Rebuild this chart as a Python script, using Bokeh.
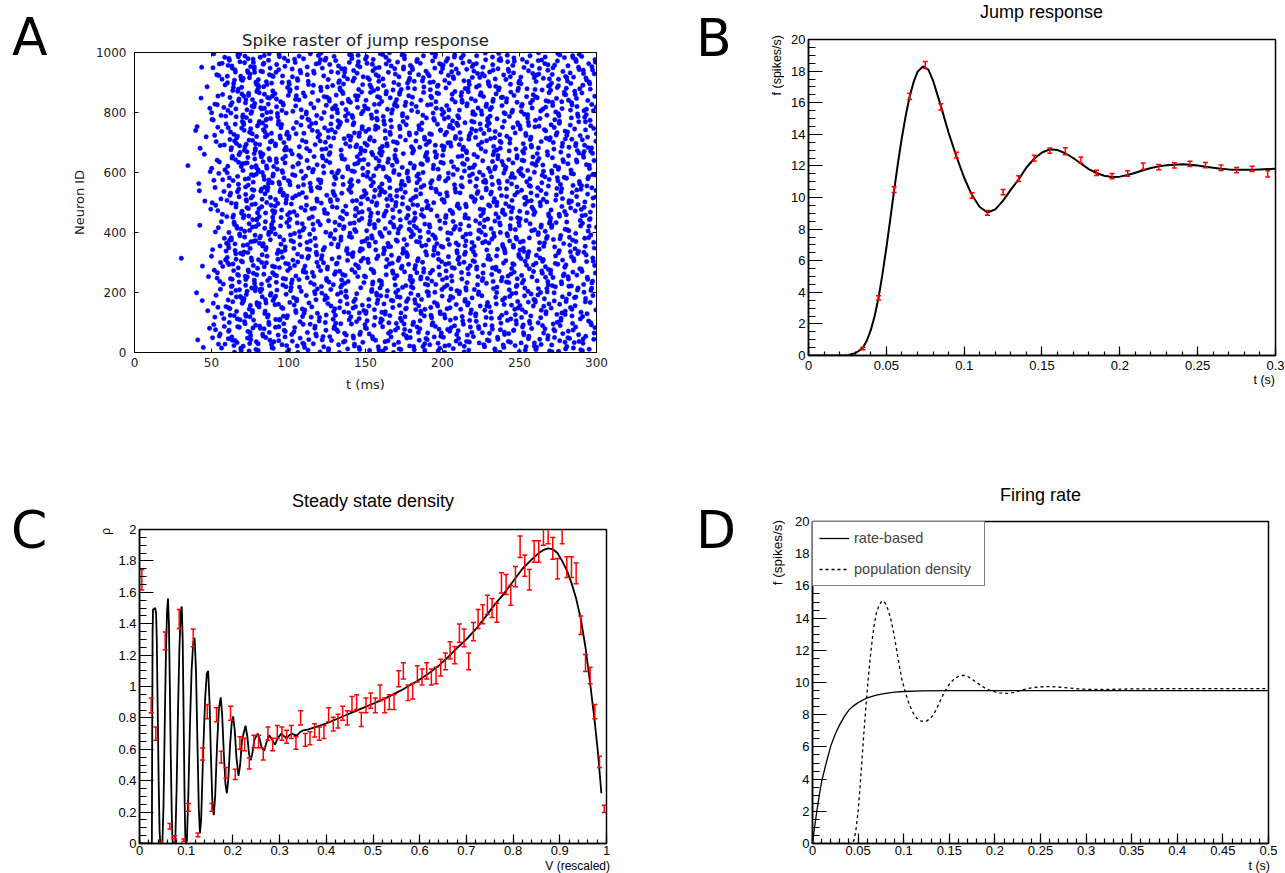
from bokeh.plotting import figure
from bokeh.models import (Range1d, LinearAxis, SingleIntervalTicker, Div, Plot,
                          Legend, LegendItem, CustomJSTickFormatter)
from bokeh.layouts import row, column
from bokeh.embed import file_html
from bokeh.resources import INLINE

# ---------------- data ----------------
# A: spike raster -- spikes counted per 10 ms bin (read from the raster density)
raster_bin_ms = 10
raster_bin_start_ms = [0, 10, 20, 30, 40, 50, 60, 70, 80, 90, 100, 110, 120, 130, 140,
                       150, 160, 170, 180, 190, 200, 210, 220, 230, 240, 250, 260, 270, 280, 290]
raster_bin_counts = [0, 0, 0, 3, 22, 75, 135, 150, 140, 120, 105, 100, 105, 110, 115,
                     118, 118, 115, 112, 110, 110, 112, 112, 113, 113, 112, 112, 111, 111, 111]

# B: jump response
jump_curve_t = [0, 0.005, 0.01, 0.015, 0.02, 0.025, 0.03, 0.0325, 0.035, 0.0375, 0.04, 0.0425,
                0.045, 0.0475, 0.05, 0.0525, 0.055, 0.0575, 0.06, 0.0625, 0.065, 0.0675, 0.07,
                0.0735, 0.077, 0.08, 0.085, 0.09, 0.095, 0.1, 0.105, 0.11,
                0.115, 0.12, 0.125, 0.13, 0.135, 0.14, 0.145, 0.15, 0.155, 0.16, 0.165, 0.17,
                0.175, 0.18, 0.185, 0.19, 0.195, 0.2, 0.205, 0.21, 0.215, 0.22, 0.225, 0.23,
                0.235, 0.24, 0.245, 0.25, 0.255, 0.26, 0.265, 0.27, 0.275, 0.28, 0.285, 0.29,
                0.295, 0.3]
jump_curve_f = [0, 0, 0, 0, 0, 0.02, 0.15, 0.3, 0.5, 0.95, 1.6, 2.5,
                3.65, 5.15, 6.8, 8.6, 10.45, 12.2, 13.8, 15.2, 16.4, 17.3, 17.95,
                18.3, 18.1, 17.4, 15.8, 14.1, 12.6, 11.25, 10.15, 9.4,
                9.05, 9.25, 9.8, 10.5, 11.15, 11.9, 12.45, 12.85, 13.05, 13.0, 12.8, 12.5,
                12.15, 11.8, 11.55, 11.38, 11.3, 11.32, 11.42, 11.57, 11.72, 11.87, 11.97, 12.04,
                12.08, 12.1, 12.08, 12.02, 11.95, 11.88, 11.82, 11.78, 11.76, 11.75, 11.76, 11.78,
                11.8, 11.82]
jump_pts_t = [0.025, 0.035, 0.045, 0.055, 0.065, 0.075, 0.085, 0.095, 0.105, 0.115, 0.125,
              0.135, 0.145, 0.155, 0.165, 0.175, 0.185, 0.195, 0.205, 0.215, 0.225, 0.235,
              0.245, 0.255, 0.265, 0.275, 0.285, 0.295]
jump_pts_f = [0.0, 0.44, 3.65, 10.5, 16.4, 18.38, 15.74, 12.68, 10.13, 9.03, 10.34,
              11.2, 12.49, 12.97, 12.93, 12.36, 11.56, 11.35, 11.52, 11.98, 11.92, 12.03,
              12.13, 12.05, 11.88, 11.73, 11.81, 11.5]
jump_pts_err = [0.03, 0.08, 0.13, 0.18, 0.2, 0.22, 0.2, 0.18, 0.17, 0.15, 0.17,
                0.18, 0.18, 0.17, 0.22, 0.2, 0.17, 0.17, 0.17, 0.2, 0.17, 0.17,
                0.17, 0.17, 0.17, 0.17, 0.17, 0.2]

# C: steady state density
dens_curve_v = [0, 0.0265, 0.0272, 0.028, 0.029, 0.0335, 0.0355, 0.037, 0.039, 0.041, 0.043,
                0.0445, 0.049, 0.0515, 0.054, 0.0565, 0.059, 0.061, 0.063, 0.065, 0.067, 0.069,
                0.0705, 0.0715, 0.0765, 0.0795, 0.0825, 0.0855, 0.0885, 0.0905, 0.0925, 0.0945,
                0.0965, 0.098, 0.0995, 0.1015, 0.1045, 0.108, 0.1115, 0.115, 0.118, 0.121, 0.124,
                0.127, 0.1295, 0.132, 0.136, 0.1405, 0.144, 0.147, 0.15, 0.153, 0.156, 0.159,
                0.162, 0.166, 0.17, 0.174, 0.177, 0.1805, 0.184, 0.187, 0.19, 0.194, 0.1975,
                0.2005, 0.204, 0.2075, 0.212, 0.2155, 0.2195, 0.227, 0.231, 0.2345, 0.238,
                0.2415, 0.246, 0.253, 0.257, 0.2615, 0.267, 0.2715, 0.2775, 0.2825, 0.29, 0.296,
                0.3036, 0.309, 0.315, 0.321, 0.327, 0.333, 0.338, 0.344, 0.35, 0.36, 0.38, 0.4,
                0.42, 0.44, 0.46, 0.48, 0.5, 0.52, 0.54, 0.56, 0.58, 0.6, 0.62, 0.64, 0.66, 0.68,
                0.7, 0.72, 0.74, 0.76, 0.78, 0.8, 0.82, 0.84, 0.855, 0.865, 0.875, 0.885, 0.895,
                0.905, 0.915, 0.925, 0.935, 0.945, 0.955, 0.965, 0.975, 0.982, 0.989]
dens_curve_rho = [0, 0, 0.7, 1.35, 1.49, 1.5, 1.47, 1.3, 0.85, 0.4, 0.08,
                  0, 0, 0.25, 0.75, 1.2, 1.48, 1.56, 1.4, 1.0, 0.55, 0.2,
                  0.03, 0, 0, 0.35, 0.85, 1.25, 1.48, 1.51, 1.3, 0.8,
                  0.3, 0.05, 0.0, 0.02, 0.3, 0.75, 1.1, 1.28, 1.31, 1.1, 0.65,
                  0.22, 0.065, 0.15, 0.55, 0.92, 1.08, 1.1, 0.9, 0.55, 0.27, 0.18,
                  0.3, 0.62, 0.86, 0.93, 0.82, 0.58, 0.38, 0.32, 0.4, 0.63, 0.77,
                  0.81, 0.72, 0.55, 0.43, 0.5, 0.66, 0.75, 0.68, 0.57, 0.53,
                  0.57, 0.66, 0.70, 0.67, 0.61, 0.59, 0.64, 0.69, 0.67, 0.63, 0.67,
                  0.70, 0.685, 0.67, 0.69, 0.70, 0.69, 0.69, 0.71, 0.72, 0.725, 0.745, 0.765,
                  0.79, 0.815, 0.84, 0.865, 0.89, 0.915, 0.945, 0.975, 1.01, 1.045, 1.085, 1.13, 1.185, 1.245,
                  1.30, 1.365, 1.44, 1.52, 1.59, 1.67, 1.75, 1.81, 1.85, 1.87, 1.88, 1.875, 1.85,
                  1.80, 1.74, 1.66, 1.56, 1.43, 1.25, 1.02, 0.77, 0.57, 0.32]
dens_pts_v = [0.005, 0.025, 0.035, 0.045, 0.055, 0.065, 0.075, 0.085, 0.095, 0.105,
              0.115, 0.125, 0.135, 0.145, 0.155, 0.165, 0.175, 0.185, 0.195, 0.205,
              0.215, 0.225, 0.235, 0.245, 0.255, 0.265, 0.275, 0.285, 0.295, 0.305,
              0.315, 0.325, 0.335, 0.345, 0.355, 0.365, 0.375, 0.385, 0.395, 0.405,
              0.415, 0.425, 0.435, 0.445, 0.455, 0.465, 0.475, 0.485, 0.495, 0.505,
              0.515, 0.525, 0.535, 0.545, 0.555, 0.565, 0.575, 0.585, 0.595, 0.605,
              0.615, 0.625, 0.635, 0.645, 0.655, 0.665, 0.675, 0.685, 0.695, 0.705,
              0.715, 0.725, 0.735, 0.745, 0.755, 0.765, 0.775, 0.785, 0.795, 0.805,
              0.815, 0.825, 0.835, 0.845, 0.855, 0.865, 0.875, 0.885, 0.895, 0.905,
              0.915, 0.925, 0.935, 0.945, 0.955, 0.965, 0.975, 0.985, 0.995]
dens_pts_rho = [1.68, 0.88, 0.70, 0.00, 1.29, 0.11, 0.04, 1.43, 0.02, 0.23,
                1.31, 0.055, 0.57, 0.84, 0.23, 0.82, 0.55, 0.45, 0.83, 0.44,
                0.64, 0.63, 0.51, 0.65, 0.65, 0.57, 0.70, 0.63, 0.71, 0.70,
                0.68, 0.71, 0.64, 0.80, 0.66, 0.67, 0.72, 0.70, 0.71, 0.82,
                0.76, 0.78, 0.83, 0.80, 0.89, 0.90, 0.79, 0.88, 0.91, 0.88,
                0.96, 0.88, 0.90, 0.90, 1.05, 1.10, 0.96, 0.97, 1.08, 1.06,
                1.10, 1.06, 1.07, 1.12, 1.16, 1.23, 1.20, 1.34, 1.31, 1.16,
                1.35, 1.43, 1.46, 1.52, 1.50, 1.47, 1.66, 1.65, 1.58, 1.70,
                1.89, 1.77, 1.68, 1.86, 1.86, 1.97, 1.98, 1.88, 1.75, 1.98,
                1.76, 1.76, 1.72, 1.39, 1.15, 1.07, 0.84, 0.52, 0.22]
dens_pts_err = [0.065, 0.047, 0.042, 0.008, 0.057, 0.017, 0.010, 0.060, 0.008, 0.024,
                0.057, 0.012, 0.038, 0.046, 0.024, 0.045, 0.037, 0.034, 0.045, 0.033,
                0.040, 0.040, 0.036, 0.040, 0.040, 0.038, 0.042, 0.040, 0.042, 0.042,
                0.041, 0.042, 0.040, 0.045, 0.041, 0.041, 0.042, 0.042, 0.042, 0.045,
                0.044, 0.044, 0.045, 0.045, 0.047, 0.047, 0.044, 0.047, 0.048, 0.047,
                0.049, 0.047, 0.047, 0.047, 0.051, 0.052, 0.049, 0.049, 0.052, 0.051,
                0.052, 0.051, 0.052, 0.053, 0.054, 0.055, 0.055, 0.058, 0.057, 0.054,
                0.058, 0.060, 0.060, 0.062, 0.061, 0.061, 0.064, 0.064, 0.063, 0.065,
                0.069, 0.067, 0.065, 0.068, 0.068, 0.070, 0.070, 0.069, 0.066, 0.070,
                0.066, 0.066, 0.066, 0.059, 0.054, 0.052, 0.046, 0.036, 0.023]

# D: firing rate
rate_t = [0, 0.0025, 0.005, 0.0075, 0.01, 0.015, 0.02, 0.025, 0.03, 0.035, 0.04, 0.045,
          0.05, 0.06, 0.07, 0.08, 0.09, 0.1, 0.12, 0.15, 0.2, 0.3, 0.4, 0.5]
rate_f = [0, 1.1, 2.1, 3.0, 3.85, 5.0, 6.05, 6.8, 7.4, 7.9, 8.3, 8.55,
          8.75, 9.05, 9.22, 9.33, 9.4, 9.44, 9.48, 9.5, 9.5, 9.5, 9.5, 9.5]
popd_t = [0, 0.044, 0.046, 0.048, 0.05, 0.052, 0.054, 0.056, 0.058, 0.06, 0.062, 0.064,
          0.066, 0.068, 0.07, 0.073, 0.076, 0.078, 0.08, 0.083, 0.086, 0.089, 0.092, 0.095,
          0.098, 0.102, 0.106, 0.11, 0.114, 0.118, 0.122, 0.125, 0.128, 0.132, 0.136, 0.14,
          0.145, 0.15, 0.155, 0.16, 0.165, 0.17, 0.175, 0.18, 0.185, 0.19, 0.195, 0.2,
          0.205, 0.21, 0.215, 0.22, 0.225, 0.23, 0.24, 0.25, 0.26, 0.27, 0.28, 0.29, 0.3,
          0.32, 0.35, 0.4, 0.45, 0.5]
popd_f = [0, 0, 0.3, 1.0, 2.0, 3.4, 5.0, 6.6, 8.1, 9.5, 10.8, 11.9,
          12.9, 13.7, 14.3, 14.8, 15.05, 15.05, 14.9, 14.5, 13.9, 13.1, 12.1, 11.1,
          10.2, 9.35, 8.65, 8.15, 7.8, 7.62, 7.57, 7.6, 7.72, 7.95, 8.35, 8.85,
          9.45, 9.9, 10.2, 10.38, 10.45, 10.38, 10.2, 10.0, 9.8, 9.62, 9.5, 9.42,
          9.36, 9.33, 9.33, 9.37, 9.45, 9.55, 9.67, 9.73, 9.75, 9.72, 9.66, 9.61, 9.58,
          9.57, 9.6, 9.62, 9.62, 9.62]

# ---------------- layout geometry (page pixels, page origin 0,0) ----------------
# figure canvases: (left, top, width, height); plot frames: (x0, x1, y0, y1)
FIGBOX = {"A": (60, 0, 608, 438), "B": (784, 24, 500, 351),
          "C": (113, 438, 555, 422), "D": (788, 438, 496, 422)}
FRAME = {"A": (134, 596, 52, 352), "B": (808, 1275, 39, 355),
         "C": (139, 606, 529, 843), "D": (812, 1268, 521, 843)}
RANGES = {"A": ((0, 300), (0, 1000)), "B": ((0, 0.3000001), (0, 20)),
          "C": ((0, 1), (0, 2)), "D": ((0, 0.5), (0, 20))}

ROOT_FONT = "Liberation Sans"
MPL_FONT = "DejaVu Sans"
HAS_FRAME_ALIGN = "frame_align" in Plot.properties()


def make_fig(key):
    ox, oy, w, h = FIGBOX[key]
    x0, x1, y0, y1 = FRAME[key]
    (xa, xb), (ya, yb) = RANGES[key]
    p = figure(width=w, height=h, x_range=Range1d(xa, xb), y_range=Range1d(ya, yb),
               output_backend="svg", toolbar_location=None, tools="",
               min_border_left=x0 - ox, min_border_right=w - (x1 - ox),
               min_border_top=y0 - oy, min_border_bottom=h - (y1 - oy))
    if HAS_FRAME_ALIGN:
        p.frame_align = False
    p.grid.visible = False
    p.outline_line_color = "black"
    p.background_fill_color = "white"
    p.border_fill_color = "white"
    return p


# ---- HTML text blocks placed next to the figures ----
def abs_div(width, height, items):
    html = ('<div style="position: relative; width: %dpx; height: %dpx;">%s</div>'
            % (width, height, "".join(items)))
    return Div(text=html, width=width, height=height, margin=0)


def letter_item(letter, left, top):
    return ('<div style="position: absolute; left: %dpx; top: %dpx; font-family: \'%s\'; '
            'font-size: 52px; line-height: 52px; color: black;">%s</div>'
            % (left, top, MPL_FONT, letter))


def vtitle_item(text, left, top, size, lh):
    # reads bottom-to-top, its end at the top (ROOT style)
    return ('<div style="position: absolute; left: %dpx; top: %dpx; writing-mode: vertical-rl; '
            'transform: rotate(180deg); font-family: \'%s\'; font-size: %s; line-height: %dpx; '
            'white-space: nowrap; color: black;">%s</div>' % (left, top, ROOT_FONT, size, lh, text))


def htitle_item(text, left, top, width, size, lh, align):
    return ('<div style="position: absolute; left: %dpx; top: %dpx; width: %dpx; text-align: %s; '
            'font-family: \'%s\'; font-size: %s; line-height: %dpx; white-space: nowrap; '
            'color: black;">%s</div>' % (left, top, width, align, ROOT_FONT, size, lh, text))


def set_title(p, text, font, size, standoff, color="black"):
    p.title.text = text
    p.title.align = "center"
    p.title.text_font = font
    p.title.text_font_size = size
    p.title.text_font_style = "normal"
    p.title.text_color = color
    p.title.standoff = standoff


FMT = CustomJSTickFormatter(code="return Number(tick.toFixed(6)).toString();")
BLANK = CustomJSTickFormatter(code="return '';")


def root_axes(p, xint, yint, xtick, ytick, xlab_standoff):
    xax, yax = p.below[0], p.left[0]
    for ax, interval, nminor, tl in ((xax, xint, 5, xtick), (yax, yint, 4, ytick)):
        ax.ticker = SingleIntervalTicker(interval=interval, num_minor_ticks=nminor)
        ax.formatter = FMT
        ax.major_tick_in = tl
        ax.major_tick_out = 0
        ax.minor_tick_in = tl // 2
        ax.minor_tick_out = 0
        ax.major_tick_line_color = "black"
        ax.minor_tick_line_color = "black"
        ax.major_tick_line_width = 1.2
        ax.minor_tick_line_width = 1.2
        ax.axis_line_color = "black"
        ax.axis_line_width = 1.5
        ax.major_label_text_font = ROOT_FONT
        ax.major_label_text_font_size = "13px"
        ax.major_label_text_color = "black"
    xax.major_label_standoff = xlab_standoff
    yax.major_label_standoff = 3
    p.outline_line_width = 1.5


def error_bars(p, xs, ys, errs):
    lo = [y - e for y, e in zip(ys, errs)]
    hi = [y + e for y, e in zip(ys, errs)]
    p.segment(x0=xs, y0=lo, x1=xs, y1=hi, line_color="red", line_width=1.5)
    p.scatter(xs, lo, marker="dash", size=5, line_color="red", line_width=1.5)
    p.scatter(xs, hi, marker="dash", size=5, line_color="red", line_width=1.5)


def halton(i, b):
    f, r = 1.0, 0.0
    while i > 0:
        f /= b
        r += f * (i % b)
        i //= b
    return r


# ---------------- A: spike raster ----------------
# spike counts per bin are the data; each bin's spikes are spread over the bin
# and the neuron axis with a deterministic low-discrepancy (Halton) layout
pA = make_fig("A")
spike_t, spike_n = [], []
g = 1
for b0, n in zip(raster_bin_start_ms, raster_bin_counts):
    for _ in range(n):
        idx = (g * 1103) % 4099 + 1
        spike_t.append(b0 + raster_bin_ms * halton(idx, 2))
        spike_n.append(int(1000 * halton(idx, 3)))
        g += 1
pA.scatter(spike_t, spike_n, marker="circle", size=4.4, fill_color="#0000ff",
           line_color="#0000ff", line_width=0.5)

xA, yA = pA.below[0], pA.left[0]
xA.ticker = SingleIntervalTicker(interval=50, num_minor_ticks=0)
yA.ticker = SingleIntervalTicker(interval=200, num_minor_ticks=0)
extras = []
for side, interval in (("right", 200), ("above", 50)):
    extra = LinearAxis(ticker=SingleIntervalTicker(interval=interval, num_minor_ticks=0),
                       formatter=BLANK)
    pA.add_layout(extra, side)
    extras.append(extra)
for ax in [xA, yA] + extras:
    ax.major_tick_in = 4
    ax.major_tick_out = 0
    ax.minor_tick_in = 0
    ax.minor_tick_out = 0
    ax.major_tick_line_color = "black"
    ax.axis_line_color = "black"
    ax.major_label_text_font = MPL_FONT
    ax.major_label_text_font_size = "12px"
    ax.major_label_text_color = "#222222"
    ax.axis_label_text_font = MPL_FONT
    ax.axis_label_text_font_size = "13px"
    ax.axis_label_text_font_style = "normal"
    ax.axis_label_text_color = "#222222"
for ax in extras:
    ax.major_label_standoff = 0
xA.axis_label = "t (ms)"
yA.axis_label = "Neuron ID"
xA.major_label_standoff = 5
yA.major_label_standoff = 8
xA.axis_label_standoff = 7
yA.axis_label_standoff = 6
set_title(pA, "Spike raster of jump response", MPL_FONT, "16.5px", 6, color="#222222")

# ---------------- B: jump response ----------------
pB = make_fig("B")
root_axes(pB, 0.05, 2, 9, 14, 5)
pB.line(jump_curve_t, jump_curve_f, line_color="black", line_width=2)
error_bars(pB, jump_pts_t, jump_pts_f, jump_pts_err)

# ---------------- C: steady state density ----------------
pC = make_fig("C")
root_axes(pC, 0.1, 0.2, 9, 14, 2)
pC.line(dens_curve_v, dens_curve_rho, line_color="black", line_width=1.8)
error_bars(pC, dens_pts_v, dens_pts_rho, dens_pts_err)
set_title(pC, "Steady state density", ROOT_FONT, "18px", 38)

# ---------------- D: firing rate ----------------
pD = make_fig("D")
root_axes(pD, 0.05, 2, 10, 14, 2)
r1 = pD.line(rate_t, rate_f, line_color="black", line_width=1.3)
r2 = pD.line(popd_t, popd_f, line_color="black", line_width=1.3, line_dash="3 3")
legend = Legend(items=[LegendItem(label="rate-based", renderers=[r1]),
                       LegendItem(label="population density", renderers=[r2])],
                location="top_left", margin=0, padding=6, spacing=11,
                glyph_width=30, glyph_height=20, label_height=20, label_width=124,
                label_standoff=5, label_text_font=ROOT_FONT, label_text_font_size="14.5px",
                border_line_color="black", border_line_width=1.2,
                background_fill_color="white", background_fill_alpha=1.0)
pD.add_layout(legend)
set_title(pD, "Firing rate", ROOT_FONT, "18px", 34)

# ---------------- text blocks around the figures ----------------
sideA = abs_div(60, 438, [letter_item("A", 12, 11)])
sideB = abs_div(116, 438, [letter_item("B", 28, 12),
                           vtitle_item("f (spikes/s)", 102, 35, "12.5px", 14)])
titleB = abs_div(500, 24, [htitle_item("Jump response", 24, 2, 467, "18px", 20, "center")])
xtitleB = abs_div(500, 63, [htitle_item("t (s)", 0, 0, 491, "12.5px", 10, "right")])
sideC = abs_div(113, 434, [letter_item("C", 11, 66),
                           vtitle_item("\u03c1", 100, 90, "12px", 12)])
xtitleC = abs_div(555, 12, [htitle_item("V (rescaled)", 0, 0, 497, "12px", 12, "right")])
sideD = abs_div(120, 434, [letter_item("D", 28, 66),
                           vtitle_item("f (spikes/s)", 103, 82, "13.5px", 14)])
xtitleD = abs_div(496, 12, [htitle_item("t (s)", 0, 0, 482, "12.5px", 12, "right")])

layout = column(
    row(sideA, pA, sideB, column(titleB, pB, xtitleB)),
    row(sideC, column(pC, xtitleC), sideD, column(pD, xtitleD)))
open("out.html", "w").write(file_html(layout, INLINE))
